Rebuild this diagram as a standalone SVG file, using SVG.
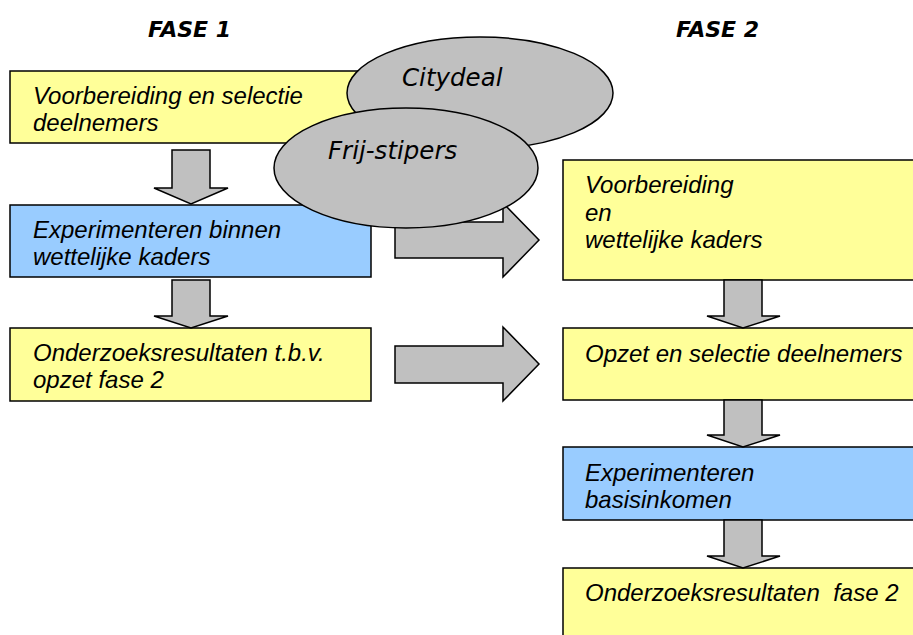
<svg xmlns="http://www.w3.org/2000/svg" width="913" height="635" viewBox="0 0 913 635">
<style>
.box{stroke:#000;stroke-width:1.5}
.y{fill:#FFFF99}
.b{fill:#99CCFF}
.arr{fill:#C0C0C0;stroke:#000;stroke-width:1.5;stroke-linejoin:miter}
.ell{fill:#C0C0C0;stroke:#000;stroke-width:1.5}
.t{font-family:"Liberation Sans",Arial,sans-serif;font-style:italic;font-size:24px;fill:#000}
.h{font-family:"DejaVu Sans",Verdana,sans-serif;font-style:oblique;font-weight:bold;font-size:22px;fill:#000}
.e{font-family:"DejaVu Sans",Verdana,sans-serif;font-style:oblique;font-size:24.5px;fill:#000}
</style>
<rect width="913" height="635" fill="#fff"/>
<g id="headers">
<text class="h" x="148" y="37">FASE 1</text>
<text class="h" x="676" y="37">FASE 2</text>
</g>
<g id="n1"><rect class="box y" x="10" y="71" width="361" height="72"/>
<text class="t" x="33" y="104">Voorbereiding en selectie</text>
<text class="t" x="33" y="131">deelnemers</text></g>
<g id="n2"><rect class="box b" x="10" y="205" width="361" height="72"/>
<text class="t" x="33" y="238">Experimenteren binnen</text>
<text class="t" x="33" y="265">wettelijke kaders</text></g>
<g id="n3"><rect class="box y" x="10" y="328" width="361" height="73"/>
<text class="t" x="33" y="361">Onderzoeksresultaten t.b.v.</text>
<text class="t" x="33" y="388">opzet fase 2</text></g>
<g id="n4"><rect class="box y" x="563" y="160" width="360" height="120"/>
<text class="t" x="585" y="193">Voorbereiding</text>
<text class="t" x="585" y="221">en</text>
<text class="t" x="585" y="248">wettelijke kaders</text></g>
<g id="n5"><rect class="box y" x="563" y="328" width="360" height="72"/>
<text class="t" x="585" y="362">Opzet en selectie deelnemers</text></g>
<g id="n6"><rect class="box b" x="563" y="447" width="360" height="73"/>
<text class="t" x="585" y="481">Experimenteren</text>
<text class="t" x="585" y="508">basisinkomen</text></g>
<g id="n7"><rect class="box y" x="563" y="568" width="360" height="80"/>
<text class="t" x="585" y="601" xml:space="preserve">Onderzoeksresultaten  fase 2</text></g>
<g id="connectors">
<path class="arr" d="M172,150 H210 V188 H228 L191,204 L154,188 H172 Z"/>
<path class="arr" d="M172,280 H210 V316 H228 L191,328 L154,316 H172 Z"/>
<path class="arr" d="M724,280 H762 V316 H780 L743,328 L707,316 H724 Z"/>
<path class="arr" d="M724,400 H762 V435 H780 L743,447 L707,435 H724 Z"/>
<path class="arr" d="M724,520 H762 V556 H780 L743,568 L707,556 H724 Z"/>
<path class="arr" d="M395,222 H503 V203 L539,240 L503,277 V258 H395 Z"/>
<path class="arr" d="M395,346 H503 V327 L539,364 L503,401 V383 H395 Z"/>
</g>
<g id="citydeal"><ellipse class="ell" cx="480" cy="93" rx="133" ry="56"/>
<text class="e" x="402" y="86">Citydeal</text></g>
<g id="frij"><ellipse class="ell" cx="406" cy="168" rx="132" ry="60"/>
<text class="e" x="328" y="159">Frij-stipers</text></g>
</svg>
